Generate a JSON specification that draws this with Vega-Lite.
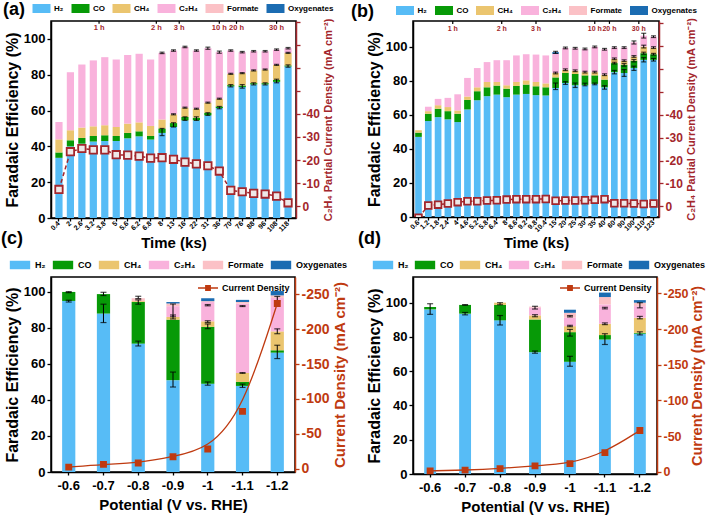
{
"$schema": "https://vega.github.io/schema/vega-lite/v6.json",
"padding": {"left": 0, "top": 0, "right": 0, "bottom": 0},
"bounds": "flush",
"columns": 2,
"spacing": {"row": 59, "column": 117},
"resolve": {"scale": {"color": "independent", "stroke": "independent"}, "legend": {"color": "independent", "stroke": "independent"}},
"config": {
  "font": "Liberation Sans",
  "view": {"stroke": "black", "strokeWidth": 1.5},
  "axis": {"grid": false, "labelFontWeight": "bold", "titleFontWeight": "bold", "domainColor": "black", "tickColor": "black", "labelColor": "black", "titleColor": "black", "domainWidth": 1.5, "tickWidth": 1.3},
  "axisLeft": {"labelOverlap": false},
  "axisRight": {"labelOverlap": false, "titleAngle": 270, "titleBaseline": "top"},
  "title": {"fontSize": 18, "fontWeight": "bold", "anchor": "start", "frame": "group", "color": "black"}
},
"datasets": {
  "aW": [
    {"t":"0.4","H2":33.6,"CO":3.0,"CH4":7.3,"C2H4":9.7,"Formate":0,"Oxygenates":0,"cd":-7.2},
    {"t":"2","H2":40.0,"CO":3.4,"CH4":5.6,"C2H4":32.4,"Formate":0,"Oxygenates":0,"cd":-23.6},
    {"t":"2.6","H2":41.5,"CO":3.2,"CH4":5.8,"C2H4":35.2,"Formate":0,"Oxygenates":0,"cd":-25.0},
    {"t":"3.2","H2":42.7,"CO":3.1,"CH4":5.4,"C2H4":36.8,"Formate":0,"Oxygenates":0,"cd":-24.4},
    {"t":"3.8","H2":43.0,"CO":3.2,"CH4":5.6,"C2H4":38.0,"Formate":0,"Oxygenates":0,"cd":-24.4},
    {"t":"5","H2":43.0,"CO":2.8,"CH4":5.0,"C2H4":37.7,"Formate":0,"Oxygenates":0,"cd":-22.3},
    {"t":"5.6","H2":44.5,"CO":3.0,"CH4":5.2,"C2H4":38.3,"Formate":0,"Oxygenates":0,"cd":-22.1},
    {"t":"6.2","H2":45.6,"CO":2.8,"CH4":5.0,"C2H4":38.3,"Formate":0,"Oxygenates":0,"cd":-21.7},
    {"t":"6.8","H2":43.8,"CO":2.0,"CH4":5.6,"C2H4":37.1,"Formate":0,"Oxygenates":0,"cd":-20.8},
    {"t":"8","H2":47.5,"CO":2.5,"CH4":5.0,"C2H4":37.2,"Formate":0,"Oxygenates":0,"cd":-21.0},
    {"t":"13","H2":50.8,"CO":2.2,"CH4":4.9,"C2H4":35.6,"Formate":0,"Oxygenates":0,"cd":-20.3},
    {"t":"16","H2":54.5,"CO":1.9,"CH4":5.2,"C2H4":33.9,"Formate":0,"Oxygenates":0,"cd":-19.1},
    {"t":"22","H2":54.5,"CO":1.5,"CH4":5.0,"C2H4":32.5,"Formate":0,"Oxygenates":0,"cd":-18.3},
    {"t":"31","H2":57.3,"CO":1.5,"CH4":5.6,"C2H4":30.4,"Formate":0,"Oxygenates":0,"cd":-17.5},
    {"t":"36","H2":61.4,"CO":0.9,"CH4":4.3,"C2H4":26.0,"Formate":0,"Oxygenates":0,"cd":-15.2},
    {"t":"70","H2":73.5,"CO":0.7,"CH4":6.3,"C2H4":13.0,"Formate":0,"Oxygenates":0,"cd":-6.8},
    {"t":"76","H2":73.1,"CO":0.9,"CH4":6.9,"C2H4":11.7,"Formate":0,"Oxygenates":0,"cd":-6.2},
    {"t":"88","H2":74.6,"CO":0.7,"CH4":7.1,"C2H4":10.7,"Formate":0,"Oxygenates":0,"cd":-5.5},
    {"t":"96","H2":74.6,"CO":0.7,"CH4":7.6,"C2H4":10.2,"Formate":0,"Oxygenates":0,"cd":-5.2},
    {"t":"108","H2":76.0,"CO":1.2,"CH4":8.3,"C2H4":8.5,"Formate":0,"Oxygenates":0,"cd":-4.3},
    {"t":"118","H2":84.6,"CO":0.6,"CH4":7.0,"C2H4":2.6,"Formate":0,"Oxygenates":0,"cd":-1.4}
  ],
  "aE": [
    {"t":"8","lo":46,"hi":50},{"t":"13","lo":50.8,"hi":53.2},{"t":"16","lo":54.5,"hi":56.5},{"t":"22","lo":54.5,"hi":56.5},
    {"t":"31","lo":57.3,"hi":58.8},{"t":"36","lo":61,"hi":62.3},{"t":"70","lo":73.2,"hi":74.5},{"t":"76","lo":72.5,"hi":74.5},
    {"t":"88","lo":74.3,"hi":75.5},{"t":"96","lo":74.3,"hi":75.5},{"t":"108","lo":75.5,"hi":77.5},{"t":"118","lo":84.2,"hi":85.5},
    {"t":"13","lo":57.6,"hi":58.2},{"t":"16","lo":61.3,"hi":61.9},{"t":"22","lo":60.7,"hi":61.3},{"t":"31","lo":64.1,"hi":64.7},
    {"t":"36","lo":66.3,"hi":66.9},{"t":"70","lo":80.2,"hi":80.8},{"t":"76","lo":80.6,"hi":81.2},{"t":"88","lo":82.1,"hi":82.7},
    {"t":"96","lo":82.6,"hi":83.2},{"t":"108","lo":85.2,"hi":85.8},{"t":"118","lo":91.9,"hi":92.5},
    {"t":"8","lo":91.8,"hi":92.6},{"t":"13","lo":93.1,"hi":93.9},{"t":"16","lo":95.1,"hi":95.9},{"t":"22","lo":93.1,"hi":93.9},
    {"t":"31","lo":94.2,"hi":95.4},{"t":"36","lo":92,"hi":93.2},{"t":"70","lo":93.1,"hi":93.9},{"t":"76","lo":92.2,"hi":93},
    {"t":"88","lo":92.7,"hi":93.5},{"t":"96","lo":92.7,"hi":93.5},{"t":"108","lo":93.6,"hi":94.4},{"t":"118","lo":94.4,"hi":95.2}
  ],
  "aTopMid": [{"t":"3.2","label":"1 h"},{"t":"6.8","label":"2 h"},{"t":"13","label":"3 h"},{"t":"70","label":"20 h"}],
  "aTopOn": [{"t":"36","label":"10 h"},{"t":"108","label":"30 h"}],
  "bW": [
    {"t":"0.6","H2":47.0,"CO":2.5,"CH4":1.4,"C2H4":0,"Formate":0,"Oxygenates":0,"cd":5},
    {"t":"1.2","H2":56.3,"CO":4.3,"CH4":1.5,"C2H4":2.6,"Formate":0,"Oxygenates":0,"cd":-0.3},
    {"t":"1.8","H2":58.6,"CO":4.9,"CH4":2.1,"C2H4":3.7,"Formate":0,"Oxygenates":0,"cd":-0.7},
    {"t":"2.4","H2":57.3,"CO":4.8,"CH4":2.4,"C2H4":5.4,"Formate":0,"Oxygenates":0,"cd":-1.2},
    {"t":"4","H2":55.7,"CO":4.9,"CH4":1.9,"C2H4":9.5,"Formate":0,"Oxygenates":0,"cd":-1.8},
    {"t":"4.6","H2":63.1,"CO":5.6,"CH4":2.0,"C2H4":10.9,"Formate":0,"Oxygenates":0,"cd":-2.2},
    {"t":"5.2","H2":68.5,"CO":5.3,"CH4":2.3,"C2H4":11.3,"Formate":0,"Oxygenates":0,"cd":-2.2},
    {"t":"5.8","H2":70.9,"CO":5.2,"CH4":3.1,"C2H4":11.7,"Formate":0,"Oxygenates":0,"cd":-2.5},
    {"t":"6.4","H2":71.8,"CO":5.3,"CH4":2.1,"C2H4":12.8,"Formate":0,"Oxygenates":0,"cd":-2.6},
    {"t":"8","H2":70.3,"CO":5.0,"CH4":2.0,"C2H4":14.7,"Formate":0,"Oxygenates":0,"cd":-2.9},
    {"t":"8.6","H2":71.8,"CO":5.1,"CH4":2.3,"C2H4":15.6,"Formate":0,"Oxygenates":0,"cd":-3.1},
    {"t":"9.2","H2":72.2,"CO":5.5,"CH4":2.5,"C2H4":15.3,"Formate":0,"Oxygenates":0,"cd":-3.1},
    {"t":"9.8","H2":71.5,"CO":5.2,"CH4":2.5,"C2H4":16.1,"Formate":0,"Oxygenates":0,"cd":-3.1},
    {"t":"10.4","H2":71.3,"CO":4.8,"CH4":2.3,"C2H4":16.4,"Formate":0,"Oxygenates":0,"cd":-3.2},
    {"t":"15","H2":75.7,"CO":6.2,"CH4":2.6,"C2H4":11.2,"Formate":0,"Oxygenates":1.0,"cd":-2.4},
    {"t":"20","H2":78.6,"CO":5.9,"CH4":1.9,"C2H4":12.8,"Formate":0,"Oxygenates":0,"cd":-2.5},
    {"t":"25","H2":77.3,"CO":6.6,"CH4":1.9,"C2H4":13.2,"Formate":0,"Oxygenates":0,"cd":-2.5},
    {"t":"30","H2":77.3,"CO":5.8,"CH4":1.9,"C2H4":13.6,"Formate":0,"Oxygenates":0,"cd":-2.6},
    {"t":"35","H2":78.1,"CO":5.0,"CH4":1.9,"C2H4":14.8,"Formate":0,"Oxygenates":0,"cd":-2.8},
    {"t":"40","H2":76.1,"CO":4.5,"CH4":2.9,"C2H4":14.9,"Formate":0,"Oxygenates":0,"cd":-3.1},
    {"t":"60","H2":85.0,"CO":5.3,"CH4":2.5,"C2H4":6.6,"Formate":0,"Oxygenates":0,"cd":-1.3},
    {"t":"90","H2":84.5,"CO":4.8,"CH4":2.4,"C2H4":7.7,"Formate":0,"Oxygenates":0,"cd":-1.3},
    {"t":"100","H2":87.4,"CO":4.3,"CH4":2.5,"C2H4":8.3,"Formate":0,"Oxygenates":0,"cd":-1.2},
    {"t":"110","H2":92.2,"CO":3.9,"CH4":3.9,"C2H4":6.4,"Formate":0,"Oxygenates":0,"cd":-1.0},
    {"t":"123","H2":92.2,"CO":3.3,"CH4":3.9,"C2H4":6.4,"Formate":0,"Oxygenates":0,"cd":-1.2}
  ],
  "bE": [
    {"t":"15","lo":96,"hi":97.2},{"t":"20","lo":98.7,"hi":99.7},{"t":"25","lo":98.5,"hi":99.5},{"t":"30","lo":98.1,"hi":99.1},
    {"t":"35","lo":99.3,"hi":100.3},{"t":"40","lo":97.9,"hi":98.9},{"t":"60","lo":98.9,"hi":99.9},{"t":"90","lo":98.9,"hi":99.9},
    {"t":"100","lo":101.5,"hi":103.3},{"t":"110","lo":105,"hi":107.8},{"t":"123","lo":105.3,"hi":106.3},
    {"t":"15","lo":84,"hi":85},{"t":"20","lo":85.9,"hi":86.9},{"t":"25","lo":85.3,"hi":86.3},{"t":"30","lo":84.5,"hi":85.5},
    {"t":"35","lo":84.5,"hi":85.5},{"t":"40","lo":83,"hi":84},{"t":"60","lo":92.3,"hi":93.3},{"t":"90","lo":91.2,"hi":92.2},
    {"t":"100","lo":93.7,"hi":94.7},{"t":"110","lo":99.2,"hi":100.8},{"t":"123","lo":98.9,"hi":99.9},
    {"t":"15","lo":74.8,"hi":78.6},{"t":"20","lo":77.8,"hi":79.4},{"t":"25","lo":76,"hi":78.6},{"t":"30","lo":77,"hi":78.5},
    {"t":"35","lo":77.6,"hi":78.6},{"t":"40","lo":75,"hi":77},{"t":"60","lo":84,"hi":86},{"t":"90","lo":82.5,"hi":86.5},
    {"t":"100","lo":86,"hi":88.5},{"t":"110","lo":91,"hi":93.5},{"t":"123","lo":91.5,"hi":93},
    {"t":"60","lo":89.8,"hi":90.8},{"t":"90","lo":88.5,"hi":90},{"t":"100","lo":91,"hi":92.4},{"t":"110","lo":95.5,"hi":96.7},{"t":"123","lo":95,"hi":96}
  ],
  "bTopMid": [{"t":"2.4","label":"1 h"},{"t":"6.4","label":"2 h"},{"t":"40","label":"20 h"},{"t":"100","label":"30 h"}],
  "bTopOn": [{"t":"9.8","label":"3 h"},{"t":"35","label":"10 h"}],
  "cW": [
    {"t":"-0.6","H2":95.0,"CO":5.0,"CH4":0,"C2H4":0,"Formate":0,"Oxygenates":0,"cd":-2},
    {"t":"-0.7","H2":88.0,"CO":10.8,"CH4":0,"C2H4":0,"Formate":0,"Oxygenates":0,"cd":-6},
    {"t":"-0.8","H2":71.3,"CO":23.1,"CH4":0.5,"C2H4":0,"Formate":1.6,"Oxygenates":0,"cd":-8},
    {"t":"-0.9","H2":51.0,"CO":33.6,"CH4":1.5,"C2H4":6.0,"Formate":1.5,"Oxygenates":0.8,"cd":-17},
    {"t":"-1","H2":49.0,"CO":31.6,"CH4":3.1,"C2H4":10.7,"Formate":0.5,"Oxygenates":1.6,"cd":-28},
    {"t":"-1.1","H2":47.8,"CO":2.2,"CH4":5.0,"C2H4":38.5,"Formate":0.9,"Oxygenates":1.2,"cd":-82},
    {"t":"-1.2","H2":66.3,"CO":1.3,"CH4":10.5,"C2H4":18.6,"Formate":1.4,"Oxygenates":2.4,"cd":-237}
  ],
  "cE": [
    {"t":"-0.6","lo":94.4,"hi":95.4},{"t":"-0.6","lo":99.6,"hi":100.2},
    {"t":"-0.7","lo":83,"hi":93.2},{"t":"-0.7","lo":98,"hi":99.8},
    {"t":"-0.8","lo":70,"hi":72.7},{"t":"-0.8","lo":93.2,"hi":95.6},{"t":"-0.8","lo":96.3,"hi":97.6},
    {"t":"-0.9","lo":47.2,"hi":55.5},{"t":"-0.9","lo":85,"hi":87.2},{"t":"-0.9","lo":86.2,"hi":93.3},
    {"t":"-1","lo":48.2,"hi":50},{"t":"-1","lo":79.6,"hi":82.2},{"t":"-1","lo":83,"hi":84},{"t":"-1","lo":92.3,"hi":93},
    {"t":"-1.1","lo":47,"hi":48.8},{"t":"-1.1","lo":54.8,"hi":55.2},{"t":"-1.1","lo":91.9,"hi":92.4},
    {"t":"-1.2","lo":63,"hi":70.4},{"t":"-1.2","lo":76.8,"hi":79.5},{"t":"-1.2","lo":95,"hi":97.5}
  ],
  "dW": [
    {"t":"-0.6","H2":96.1,"CO":1.4,"CH4":0,"C2H4":0,"Formate":0,"Oxygenates":0,"cd":-1.4},
    {"t":"-0.7","H2":93.6,"CO":5.1,"CH4":0,"C2H4":0,"Formate":0,"Oxygenates":0,"cd":-2.4},
    {"t":"-0.8","H2":89.7,"CO":9.0,"CH4":1.3,"C2H4":0,"Formate":0,"Oxygenates":0,"cd":-4.6},
    {"t":"-0.9","H2":71.1,"CO":19.1,"CH4":2.4,"C2H4":4.5,"Formate":0.6,"Oxygenates":0,"cd":-8.4},
    {"t":"-1","H2":65.5,"CO":17.3,"CH4":3.5,"C2H4":4.9,"Formate":2.9,"Oxygenates":1.8,"cd":-11.6},
    {"t":"-1.1","H2":78.5,"CO":2.6,"CH4":6.6,"C2H4":11.3,"Formate":4.3,"Oxygenates":2.6,"cd":-27},
    {"t":"-1.2","H2":81.9,"CO":0.5,"CH4":8.8,"C2H4":6.8,"Formate":2.0,"Oxygenates":1.5,"cd":-58}
  ],
  "dE": [
    {"t":"-0.6","lo":93.2,"hi":99.4},
    {"t":"-0.7","lo":92.9,"hi":94.3},{"t":"-0.7","lo":98.5,"hi":98.9},
    {"t":"-0.8","lo":87,"hi":92.5},{"t":"-0.8","lo":98.8,"hi":100},
    {"t":"-0.9","lo":70.5,"hi":71.8},{"t":"-0.9","lo":91.8,"hi":93},{"t":"-0.9","lo":96.3,"hi":97.9},
    {"t":"-1","lo":62.9,"hi":68.7},{"t":"-1","lo":80.5,"hi":84.4},{"t":"-1","lo":86,"hi":86.8},{"t":"-1","lo":91.7,"hi":92.5},
    {"t":"-1.1","lo":75.6,"hi":81.9},{"t":"-1.1","lo":87.2,"hi":88.2},{"t":"-1.1","lo":96.4,"hi":97.3},
    {"t":"-1.2","lo":81.2,"hi":83},{"t":"-1.2","lo":90.6,"hi":92},{"t":"-1.2","lo":97,"hi":100}
  ]
},
"concat": [
   {
    "width": 245, "height": 197,
    "title": {"text": "(a)", "dx": -48, "dy": 20},
    "encoding": {"x": {"field": "t", "type": "ordinal", "sort": null, "title": "Time (ks)",
      "scale": {"domain": ["0.4","2","2.6","3.2","3.8","5","5.6","6.2","6.8","8","13","16","22","31","36","70","76","88","96","108","118"], "paddingInner": 0.37, "paddingOuter": 0.38},
      "axis": {"labelAngle": -45, "labelAlign": "right", "labelBaseline": "middle", "labelFontSize": 7, "titleFontSize": 15, "tickSize": 3, "labelPadding": 1, "titlePadding": 3}}},
    "layer": [
     {"layer": [
      {"data": {"name": "aW"},
       "transform": [{"fold": ["H2","CO","CH4","C2H4","Formate","Oxygenates"], "as": ["product","fe"]},
                     {"calculate": "indexof(['H2','CO','CH4','C2H4','Formate','Oxygenates'], datum.product)", "as": "ord"}],
       "mark": {"type": "bar"},
       "encoding": {
         "y": {"field": "fe", "type": "quantitative", "stack": "zero", "title": "Faradaic Efficiency (%)", "scale": {"domain": [0,110], "nice": false},
               "axis": {"tickCount": 6, "labelOverlap": false, "labelFontSize": 13, "titleFontSize": 16, "tickSize": 4, "titlePadding": 3}},
         "color": {"field": "product", "type": "nominal",
           "scale": {"domain": ["H2","CO","CH4","C2H4","Formate","Oxygenates"], "range": ["#57BCF6","#079A07","#EBC56F","#F9B2DC","#FBC1C6","#1B6CB2"]},
           "legend": {"orient": "none", "legendX": -15, "legendY": -18, "direction": "horizontal", "title": null,
             "symbolType": "M-2,-1H2V1H-2Z", "symbolSize": 81, "labelFontSize": 8, "labelFontWeight": "bold", "labelOffset": 7, "columnPadding": 7,
             "labelExpr": "datum.label == 'H2' ? 'H₂' : datum.label == 'CH4' ? 'CH₄' : datum.label == 'C2H4' ? 'C₂H₄' : datum.label"}},
         "order": {"field": "ord", "type": "quantitative"}
       }},
      {"data": {"name": "aE"}, "mark": {"type": "rule", "color": "black", "strokeWidth": 1},
       "encoding": {"y": {"field": "lo", "type": "quantitative", "title": "Faradaic Efficiency (%)"}, "y2": {"field": "hi"}}},
      {"data": {"name": "aE"}, "mark": {"type": "tick", "color": "black", "size": 5, "thickness": 1.2},
       "encoding": {"y": {"field": "lo", "type": "quantitative", "title": "Faradaic Efficiency (%)"}}},
      {"data": {"name": "aE"}, "mark": {"type": "tick", "color": "black", "size": 5, "thickness": 1.2},
       "encoding": {"y": {"field": "hi", "type": "quantitative", "title": "Faradaic Efficiency (%)"}}},
      {"data": {"name": "aTopMid"}, "mark": {"type": "text", "color": "#A3262C", "fontSize": 7.5, "fontWeight": "bold", "baseline": "middle"},
       "encoding": {"x": {"field": "t", "type": "ordinal", "sort": null, "title": "Time (ks)", "bandPosition": 1.294}, "y": {"datum": 106.2}, "text": {"field": "label"}}},
      {"data": {"name": "aTopOn"}, "mark": {"type": "text", "color": "#A3262C", "fontSize": 7.5, "fontWeight": "bold", "baseline": "middle"},
       "encoding": {"y": {"datum": 106.2}, "text": {"field": "label"}}},
      {"data": {"name": "aTopMid"}, "mark": {"type": "rule", "color": "black", "strokeWidth": 1.2},
       "encoding": {"x": {"field": "t", "type": "ordinal", "sort": null, "title": "Time (ks)", "bandPosition": 1.294}, "y": {"datum": 110}, "y2": {"datum": 108.4}}},
      {"data": {"name": "aTopOn"}, "mark": {"type": "rule", "color": "black", "strokeWidth": 1.2},
       "encoding": {"y": {"datum": 110}, "y2": {"datum": 108.4}}}
     ]},
     {"data": {"name": "aW"},
      "mark": {"type": "line", "color": "#A3262C", "strokeDash": [4,3], "strokeWidth": 1.5,
               "point": {"shape": "square", "size": 55, "filled": true, "fill": "#EEE8E8", "stroke": "#A3262C", "strokeWidth": 1.8}},
      "encoding": {"y": {"field": "cd", "type": "quantitative", "title": "C₂H₄ Partial Current Density (mA cm⁻²)",
        "scale": {"domain": [5.2,-80.4], "nice": false, "zero": false},
        "axis": {"orient": "right", "values": [-80,-70,-60,-50,-40,-30,-20,-10,0], "labelExpr": "datum.value < -40 ? '' : '' + datum.value",
          "titleColor": "#A3262C", "labelColor": "#A3262C", "domainColor": "#A3262C", "tickColor": "#A3262C", "labelFontSize": 12, "titleFontSize": 11, "tickSize": 4, "titlePadding": 3}}}}
    ],
    "resolve": {"scale": {"y": "independent"}}
   },
   {
    "width": 246, "height": 196,
    "title": {"text": "(b)", "dx": -62, "dy": 20},
    "encoding": {"x": {"field": "t", "type": "ordinal", "sort": null, "title": "Time (ks)",
      "scale": {"domain": ["0.6","1.2","1.8","2.4","4","4.6","5.2","5.8","6.4","8","8.6","9.2","9.8","10.4","15","20","25","30","35","40","60","90","100","110","123"], "paddingInner": 0.32, "paddingOuter": 0.22},
      "axis": {"labelAngle": -45, "labelAlign": "right", "labelBaseline": "middle", "labelFontSize": 7, "titleFontSize": 15, "tickSize": 3, "labelPadding": 1, "titlePadding": 3}}},
    "layer": [
     {"layer": [
      {"data": {"name": "bW"},
       "transform": [{"fold": ["H2","CO","CH4","C2H4","Formate","Oxygenates"], "as": ["product","fe"]},
                     {"calculate": "indexof(['H2','CO','CH4','C2H4','Formate','Oxygenates'], datum.product)", "as": "ord"}],
       "mark": {"type": "bar"},
       "encoding": {
         "y": {"field": "fe", "type": "quantitative", "stack": "zero", "title": "Faradaic Efficiency (%)", "scale": {"domain": [0,115], "nice": false},
               "axis": {"tickCount": 6, "labelOverlap": false, "labelFontSize": 13, "titleFontSize": 16, "tickSize": 4, "titlePadding": 3}},
         "color": {"field": "product", "type": "nominal",
           "scale": {"domain": ["H2","CO","CH4","C2H4","Formate","Oxygenates"], "range": ["#57BCF6","#079A07","#EBC56F","#F9B2DC","#FBC1C6","#1B6CB2"]},
           "legend": {"orient": "none", "legendX": -13.5, "legendY": -16, "direction": "horizontal", "title": null,
             "symbolType": "M-2,-1H2V1H-2Z", "symbolSize": 81, "labelFontSize": 8, "labelFontWeight": "bold", "labelOffset": 7, "columnPadding": 7,
             "labelExpr": "datum.label == 'H2' ? 'H₂' : datum.label == 'CH4' ? 'CH₄' : datum.label == 'C2H4' ? 'C₂H₄' : datum.label"}},
         "order": {"field": "ord", "type": "quantitative"}
       }},
      {"data": {"name": "bE"}, "mark": {"type": "rule", "color": "black", "strokeWidth": 1},
       "encoding": {"y": {"field": "lo", "type": "quantitative", "title": "Faradaic Efficiency (%)"}, "y2": {"field": "hi"}}},
      {"data": {"name": "bE"}, "mark": {"type": "tick", "color": "black", "size": 5, "thickness": 1.2},
       "encoding": {"y": {"field": "lo", "type": "quantitative", "title": "Faradaic Efficiency (%)"}}},
      {"data": {"name": "bE"}, "mark": {"type": "tick", "color": "black", "size": 5, "thickness": 1.2},
       "encoding": {"y": {"field": "hi", "type": "quantitative", "title": "Faradaic Efficiency (%)"}}},
      {"data": {"name": "bTopMid"}, "mark": {"type": "text", "color": "#A3262C", "fontSize": 7, "fontWeight": "bold", "baseline": "middle"},
       "encoding": {"x": {"field": "t", "type": "ordinal", "sort": null, "title": "Time (ks)", "bandPosition": 1.235}, "y": {"datum": 110.5}, "text": {"field": "label"}}},
      {"data": {"name": "bTopOn"}, "mark": {"type": "text", "color": "#A3262C", "fontSize": 7, "fontWeight": "bold", "baseline": "middle"},
       "encoding": {"y": {"datum": 110.5}, "text": {"field": "label"}}},
      {"data": {"name": "bTopMid"}, "mark": {"type": "rule", "color": "black", "strokeWidth": 1.2},
       "encoding": {"x": {"field": "t", "type": "ordinal", "sort": null, "title": "Time (ks)", "bandPosition": 1.235}, "y": {"datum": 115}, "y2": {"datum": 113.3}}},
      {"data": {"name": "bTopOn"}, "mark": {"type": "rule", "color": "black", "strokeWidth": 1.2},
       "encoding": {"y": {"datum": 115}, "y2": {"datum": 113.3}}}
     ]},
     {"data": {"name": "bW"},
      "mark": {"type": "line", "color": "#A3262C", "strokeDash": [4,3], "strokeWidth": 1.5, "clip": true,
               "point": {"shape": "square", "size": 45, "filled": true, "fill": "#EEE8E8", "stroke": "#A3262C", "strokeWidth": 1.8, "clip": true}},
      "encoding": {"y": {"field": "cd", "type": "quantitative", "title": "C₂H₄ Partial Current Density (mA cm⁻²)",
        "scale": {"domain": [4.7,-81], "nice": false, "zero": false},
        "axis": {"orient": "right", "values": [-80,-70,-60,-50,-40,-30,-20,-10,0], "labelExpr": "datum.value < -40 ? '' : '' + datum.value",
          "titleColor": "#A3262C", "labelColor": "#A3262C", "domainColor": "#A3262C", "tickColor": "#A3262C", "labelFontSize": 12, "titleFontSize": 11, "tickSize": 4, "titlePadding": 3}}}}
    ],
    "resolve": {"scale": {"y": "independent"}}
   },
   {
    "width": 244, "height": 195,
    "title": {"text": "(c)", "dx": -50, "dy": -8},
    "encoding": {"x": {"field": "t", "type": "ordinal", "sort": null, "title": "Potential (V vs. RHE)",
      "scale": {"domain": ["-0.6","-0.7","-0.8","-0.9","-1","-1.1","-1.2"], "paddingInner": 0.62, "paddingOuter": 0.32},
      "axis": {"labelAngle": 0, "labelFontSize": 13, "titleFontSize": 15, "tickSize": 3, "labelPadding": 4, "titlePadding": 5}}},
    "layer": [
     {"layer": [
      {"data": {"name": "cW"},
       "transform": [{"fold": ["H2","CO","CH4","C2H4","Formate","Oxygenates"], "as": ["product","fe"]},
                     {"calculate": "indexof(['H2','CO','CH4','C2H4','Formate','Oxygenates'], datum.product)", "as": "ord"}],
       "mark": {"type": "bar"},
       "encoding": {
         "y": {"field": "fe", "type": "quantitative", "stack": "zero", "title": "Faradaic Efficiency (%)", "scale": {"domain": [0,108.3], "nice": false},
               "axis": {"tickCount": 6, "labelOverlap": false, "labelFontSize": 13, "titleFontSize": 16, "tickSize": 4, "titlePadding": 3}},
         "color": {"field": "product", "type": "nominal",
           "scale": {"domain": ["H2","CO","CH4","C2H4","Formate","Oxygenates"], "range": ["#57BCF6","#079A07","#EBC56F","#F9B2DC","#FBC1C6","#1B6CB2"]},
           "legend": {"orient": "none", "legendX": -36, "legendY": -17, "direction": "horizontal", "title": null,
             "symbolType": "M-2.4,-1H2.4V1H-2.4Z", "symbolSize": 72, "labelFontSize": 9, "labelFontWeight": "bold", "labelOffset": 10, "columnPadding": 6,
             "labelExpr": "datum.label == 'H2' ? 'H₂' : datum.label == 'CH4' ? 'CH₄' : datum.label == 'C2H4' ? 'C₂H₄' : datum.label"}},
         "order": {"field": "ord", "type": "quantitative"}
       }},
      {"data": {"name": "cE"}, "mark": {"type": "rule", "color": "black", "strokeWidth": 1},
       "encoding": {"y": {"field": "lo", "type": "quantitative", "title": "Faradaic Efficiency (%)"}, "y2": {"field": "hi"}}},
      {"data": {"name": "cE"}, "mark": {"type": "tick", "color": "black", "size": 6, "thickness": 1.2},
       "encoding": {"y": {"field": "lo", "type": "quantitative", "title": "Faradaic Efficiency (%)"}}},
      {"data": {"name": "cE"}, "mark": {"type": "tick", "color": "black", "size": 6, "thickness": 1.2},
       "encoding": {"y": {"field": "hi", "type": "quantitative", "title": "Faradaic Efficiency (%)"}}}
     ]},
     {"data": {"name": "cW"},
      "mark": {"type": "line", "interpolate": "basis", "strokeWidth": 1.3,
               "point": {"shape": "square", "size": 24, "filled": true, "fill": "#BF3A10"}},
      "encoding": {"y": {"field": "cd", "type": "quantitative", "title": "Current Density (mA cm⁻²)",
        "scale": {"domain": [5,-275], "nice": false, "zero": false},
        "axis": {"orient": "right", "values": [-250,-200,-150,-100,-50,0], "labelExpr": "'' + datum.value",
          "titleColor": "#BF3A10", "labelColor": "#BF3A10", "domainColor": "#BF3A10", "tickColor": "#BF3A10", "labelFontSize": 14, "titleFontSize": 15, "tickSize": 4, "titlePadding": 3}},
        "stroke": {"datum": "Current Density", "type": "nominal", "scale": {"range": ["#BF3A10"]},
          "legend": {"orient": "top-right", "offset": 5, "title": null, "labelFontSize": 9, "labelFontWeight": "bold",
            "symbolType": "M-2,0H2M-0.45,-0.45H0.45V0.45H-0.45Z", "symbolSize": 100, "symbolStrokeWidth": 1.3, "symbolFillColor": "#BF3A10", "labelOffset": 8}}}}
    ],
    "resolve": {"scale": {"y": "independent"}}
   },
   {
    "width": 244, "height": 197,
    "title": {"text": "(d)", "dx": -55, "dy": -8},
    "encoding": {"x": {"field": "t", "type": "ordinal", "sort": null, "title": "Potential (V vs. RHE)",
      "scale": {"domain": ["-0.6","-0.7","-0.8","-0.9","-1","-1.1","-1.2"], "paddingInner": 0.66, "paddingOuter": 0.32},
      "axis": {"labelAngle": 0, "labelFontSize": 13, "titleFontSize": 15, "tickSize": 3, "labelPadding": 4, "titlePadding": 5}}},
    "layer": [
     {"layer": [
      {"data": {"name": "dW"},
       "transform": [{"fold": ["H2","CO","CH4","C2H4","Formate","Oxygenates"], "as": ["product","fe"]},
                     {"calculate": "indexof(['H2','CO','CH4','C2H4','Formate','Oxygenates'], datum.product)", "as": "ord"}],
       "mark": {"type": "bar"},
       "encoding": {
         "y": {"field": "fe", "type": "quantitative", "stack": "zero", "title": "Faradaic Efficiency (%)", "scale": {"domain": [0,115], "nice": false},
               "axis": {"tickCount": 6, "labelOverlap": false, "labelFontSize": 13, "titleFontSize": 16, "tickSize": 4, "titlePadding": 3}},
         "color": {"field": "product", "type": "nominal",
           "scale": {"domain": ["H2","CO","CH4","C2H4","Formate","Oxygenates"], "range": ["#57BCF6","#079A07","#EBC56F","#F9B2DC","#FBC1C6","#1B6CB2"]},
           "legend": {"orient": "none", "legendX": -35, "legendY": -17, "direction": "horizontal", "title": null,
             "symbolType": "M-2.4,-1H2.4V1H-2.4Z", "symbolSize": 72, "labelFontSize": 9, "labelFontWeight": "bold", "labelOffset": 10, "columnPadding": 5,
             "labelExpr": "datum.label == 'H2' ? 'H₂' : datum.label == 'CH4' ? 'CH₄' : datum.label == 'C2H4' ? 'C₂H₄' : datum.label"}},
         "order": {"field": "ord", "type": "quantitative"}
       }},
      {"data": {"name": "dE"}, "mark": {"type": "rule", "color": "black", "strokeWidth": 1},
       "encoding": {"y": {"field": "lo", "type": "quantitative", "title": "Faradaic Efficiency (%)"}, "y2": {"field": "hi"}}},
      {"data": {"name": "dE"}, "mark": {"type": "tick", "color": "black", "size": 6, "thickness": 1.2},
       "encoding": {"y": {"field": "lo", "type": "quantitative", "title": "Faradaic Efficiency (%)"}}},
      {"data": {"name": "dE"}, "mark": {"type": "tick", "color": "black", "size": 6, "thickness": 1.2},
       "encoding": {"y": {"field": "hi", "type": "quantitative", "title": "Faradaic Efficiency (%)"}}}
     ]},
     {"data": {"name": "dW"},
      "mark": {"type": "line", "interpolate": "basis", "strokeWidth": 1.3,
               "point": {"shape": "square", "size": 24, "filled": true, "fill": "#BF3A10"}},
      "encoding": {"y": {"field": "cd", "type": "quantitative", "title": "Current Density (mA cm⁻²)",
        "scale": {"domain": [3,-273], "nice": false, "zero": false},
        "axis": {"orient": "right", "values": [-250,-200,-150,-100,-50,0], "labelExpr": "'' + datum.value",
          "titleColor": "#BF3A10", "labelColor": "#BF3A10", "domainColor": "#BF3A10", "tickColor": "#BF3A10", "labelFontSize": 12.5, "titleFontSize": 14.5, "tickSize": 4, "titlePadding": 2}},
        "stroke": {"datum": "Current Density", "type": "nominal", "scale": {"range": ["#BF3A10"]},
          "legend": {"orient": "top-right", "offset": 5, "title": null, "labelFontSize": 9, "labelFontWeight": "bold",
            "symbolType": "M-2,0H2M-0.45,-0.45H0.45V0.45H-0.45Z", "symbolSize": 100, "symbolStrokeWidth": 1.3, "symbolFillColor": "#BF3A10", "labelOffset": 8}}}}
    ],
    "resolve": {"scale": {"y": "independent"}}
   }
]
}
